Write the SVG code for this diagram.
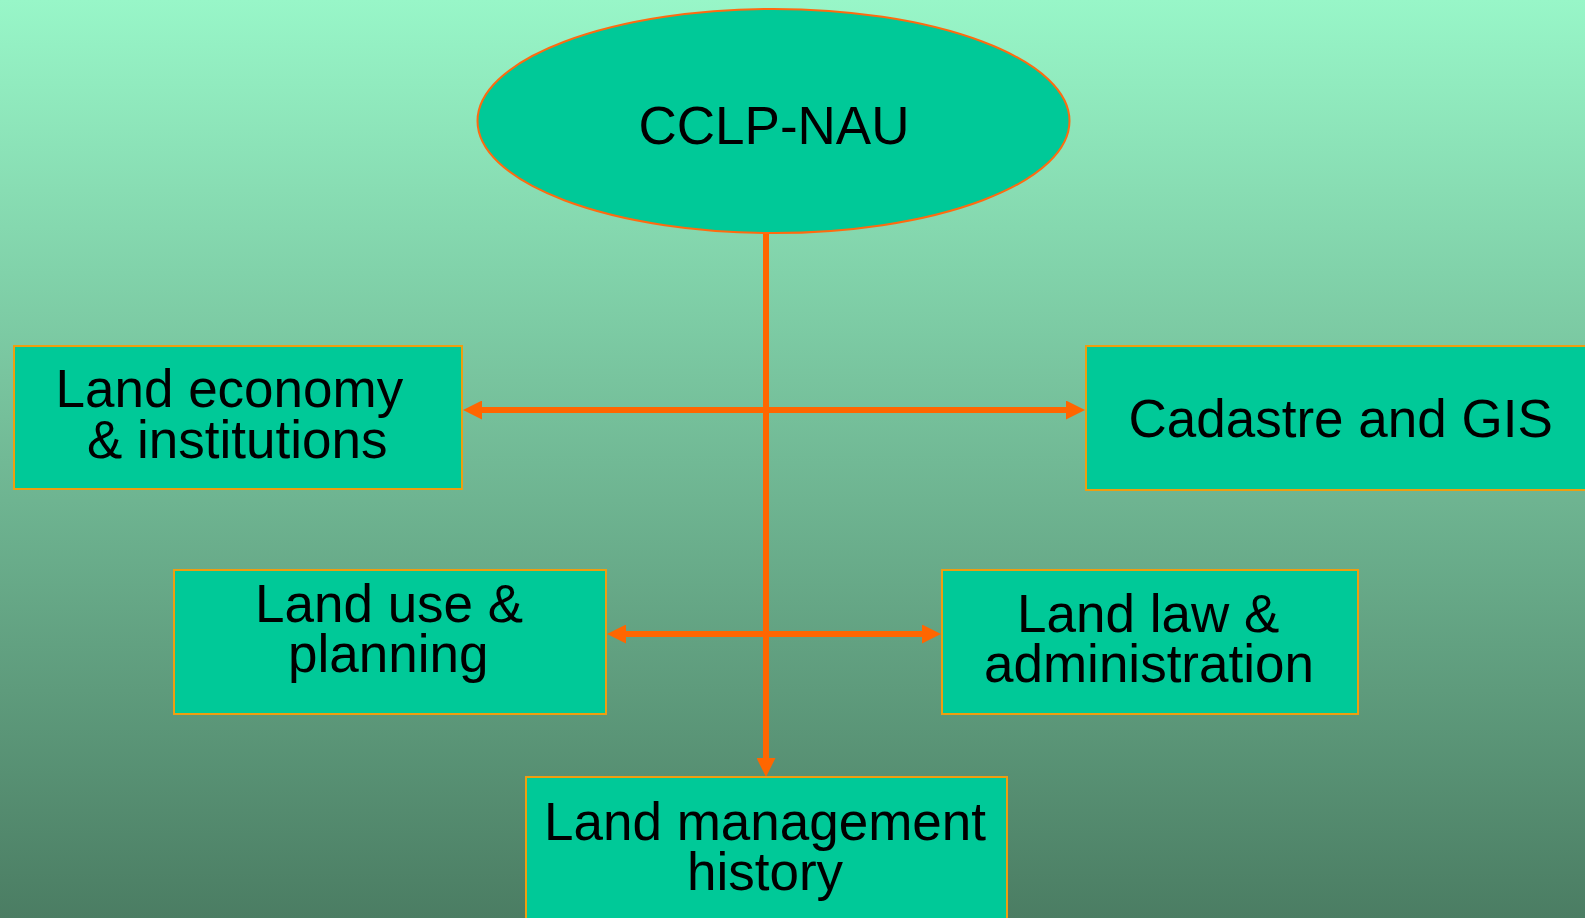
<svg xmlns="http://www.w3.org/2000/svg" width="1585" height="918" viewBox="0 0 1585 918">
  <defs>
    <linearGradient id="bg" x1="0" y1="0" x2="0" y2="1">
      <stop offset="0" stop-color="#98F6C8"/>
      <stop offset="1" stop-color="#4B7D63"/>
    </linearGradient>
    <marker id="arrow" viewBox="0 0 19 19" refX="0" refY="9.5" markerWidth="19" markerHeight="19" markerUnits="userSpaceOnUse" orient="auto-start-reverse">
      <path d="M0,0 L19,9.5 L0,19 z" fill="#FF6600"/>
    </marker>
    <style>
      .box { fill: #00C998; stroke: #EE9E10; stroke-width: 2; }
      .ell { fill: #00C998; stroke: #FF6A10; stroke-width: 2; }
      .lbl { font-family: "Liberation Sans", Arial, sans-serif; font-size: 53px; fill: #000; }
      .conn { stroke: #FF6600; stroke-width: 6; fill: none; }
    </style>
  </defs>
  <rect x="0" y="0" width="1585" height="918" fill="url(#bg)"/>

  <g id="connectors">
    <line class="conn" x1="766" y1="233" x2="766" y2="758" marker-end="url(#arrow)"/>
    <line class="conn" x1="482" y1="410" x2="1066" y2="410" marker-start="url(#arrow)" marker-end="url(#arrow)"/>
    <line class="conn" x1="626" y1="634" x2="922" y2="634" marker-start="url(#arrow)" marker-end="url(#arrow)"/>
  </g>

  <g id="node-cclp">
    <ellipse class="ell" cx="773.5" cy="121" rx="296" ry="112"/>
    <text class="lbl" x="774" y="144" text-anchor="middle">CCLP-NAU</text>
  </g>

  <g id="node-economy">
    <rect class="box" x="14" y="346" width="448" height="143"/>
    <text class="lbl" x="55.5" y="407">Land economy</text>
    <text class="lbl" x="87" y="458">&amp; institutions</text>
  </g>

  <g id="node-cadastre">
    <rect class="box" x="1086" y="346" width="510" height="144"/>
    <text class="lbl" x="1128.5" y="437">Cadastre and GIS</text>
  </g>

  <g id="node-landuse">
    <rect class="box" x="174" y="570" width="432" height="144"/>
    <text class="lbl" x="255" y="622">Land use &amp;</text>
    <text class="lbl" x="288" y="672">planning</text>
  </g>

  <g id="node-landlaw">
    <rect class="box" x="942" y="570" width="416" height="144"/>
    <text class="lbl" x="1017" y="632">Land law &amp;</text>
    <text class="lbl" x="984" y="682">administration</text>
  </g>

  <g id="node-history">
    <rect class="box" x="526" y="777" width="481" height="160"/>
    <text class="lbl" x="544" y="840">Land management</text>
    <text class="lbl" x="687" y="890">history</text>
  </g>
</svg>
